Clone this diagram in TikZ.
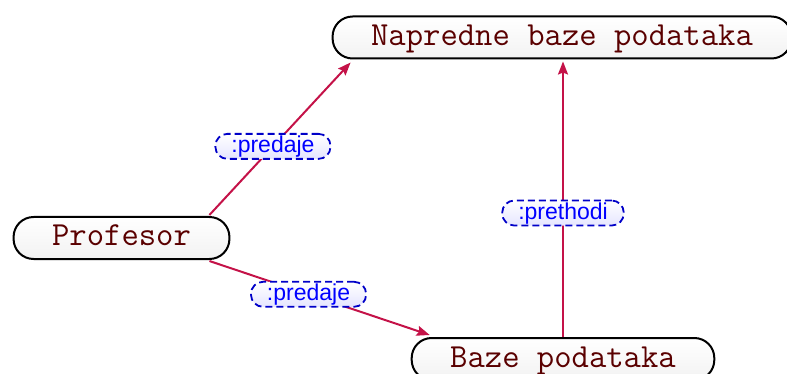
\documentclass[tikz,border=0pt]{standalone}
\usepackage{fontspec}
\newfontfamily\lblfont{Liberation Sans}
\usetikzlibrary{calc,arrows.meta}
\definecolor{edgecol}{RGB}{196,18,72}
\definecolor{nodetext}{RGB}{90,0,0}
\definecolor{lblborder}{RGB}{0,0,200}
\tikzset{
  concept/.style={draw=black, line width=2pt, rounded corners=20pt,
    top color=white, bottom color=black!5, text=nodetext,
    font=\ttfamily\fontsize{33.7}{40}\selectfont,
    minimum height=42pt, inner xsep=38.5pt, inner ysep=0pt,
    text height=21pt, text depth=5pt},
  rel/.style={draw=edgecol, line width=2pt,
    -{Stealth[length=13pt,width=10pt,inset=2pt]}},
  lbl/.style={draw=lblborder, line width=1.8pt, dash pattern=on 7pt off 4pt,
    rounded corners=12pt, top color=white, bottom color=blue!10,
    text=blue, font=\lblfont\fontsize{23}{26}\selectfont,
    minimum height=25pt, inner xsep=16pt, inner ysep=0pt,
    text height=17.5pt, text depth=4.5pt, pos=0.45}
}
\begin{document}
\begin{tikzpicture}[x=1pt,y=-1pt]
\useasboundingbox (0,0) rectangle (787,374);
\node[concept] (nap) at (562,37.5) {Napredne baze podataka};
\node[concept] (prof) at (121.5,238) {Profesor};
\node[concept] (baze) at (563,359) {Baze podataka};
\coordinate (p1) at ($(prof.north east)+(-21,-1)$);
\coordinate (n1) at ($(nap.south west)+(19,3)$);
\coordinate (p2) at ($(prof.south east)+(-21,1)$);
\coordinate (b1) at ($(baze.north west)+(19,-2)$);
\coordinate (b2) at (baze.north);
\coordinate (n2) at ($(nap.south)+(1,2)$);
\draw[rel] (p1) -- node[lbl] (l1) {:predaje} (n1);
\draw[rel] (p2) -- node[lbl] (l2) {:predaje} (b1);
\draw[rel] (b2) -- node[lbl] (l3) {:prethodi} (n2);
\end{tikzpicture}
\end{document}
